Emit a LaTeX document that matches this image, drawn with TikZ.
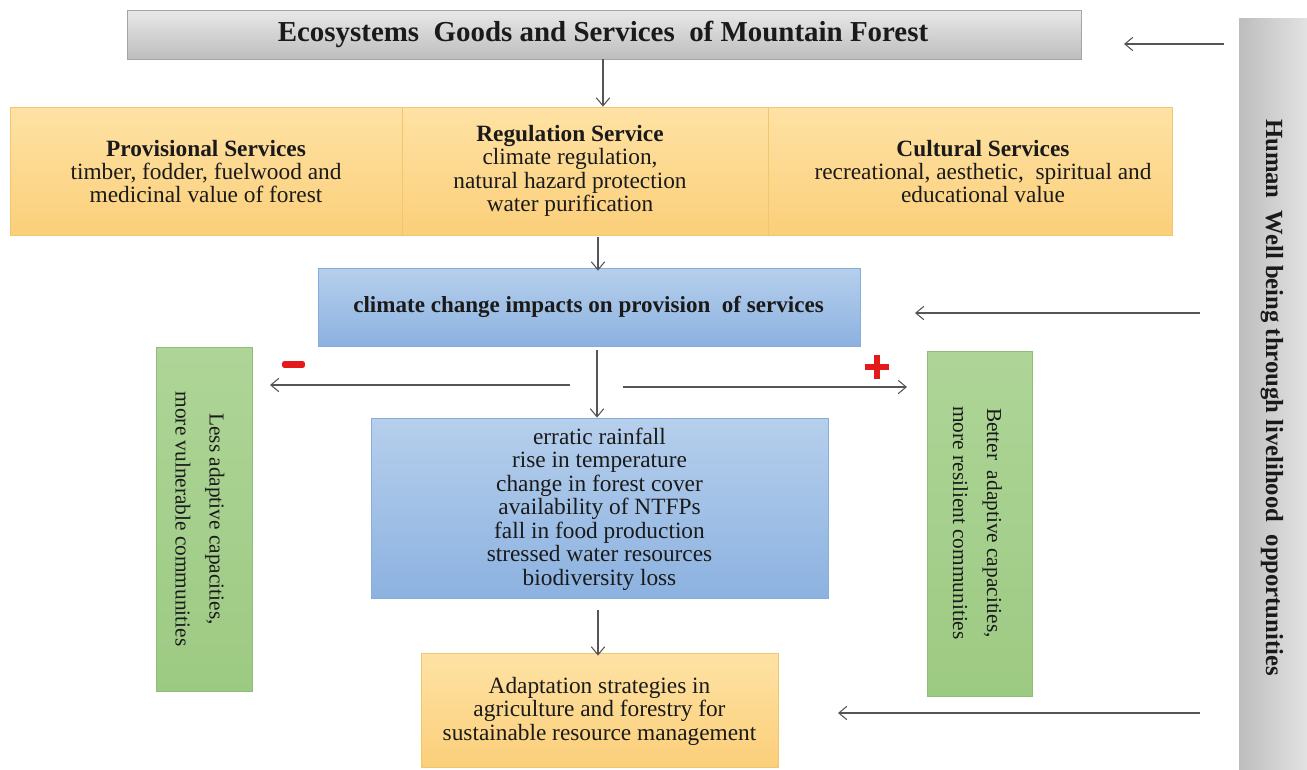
\documentclass[tikz,border=0pt]{standalone}
\usepackage{fontspec}
\setmainfont{Liberation Serif}
\usetikzlibrary{arrows.meta}
\definecolor{orT}{HTML}{FEE2A4}
\definecolor{orB}{HTML}{FBCF7A}
\definecolor{orE}{HTML}{F2C66E}
\definecolor{blT}{HTML}{B6CFEC}
\definecolor{blB}{HTML}{8CB2E0}
\definecolor{blE}{HTML}{86ACD9}
\definecolor{gnT}{HTML}{AED597}
\definecolor{gnB}{HTML}{9DCA83}
\definecolor{gnE}{HTML}{8DBD76}
\definecolor{gyT}{HTML}{E9E9E9}
\definecolor{gyB}{HTML}{BDBDBD}
\definecolor{gyE}{HTML}{A5A5A5}
\definecolor{arrC}{HTML}{555555}
\definecolor{txt}{HTML}{1A1A1A}
\definecolor{sign}{HTML}{E3191C}
\tikzset{
  orbox/.style={rectangle, inner sep=0pt, top color=orT, bottom color=orB, draw=orE, line width=0.6pt},
  blbox/.style={rectangle, inner sep=0pt, top color=blT, bottom color=blB, draw=blE, line width=0.6pt},
  gnbox/.style={rectangle, inner sep=0pt, top color=gnT, bottom color=gnB, draw=gnE, line width=0.6pt},
  gybox/.style={rectangle, inner sep=0pt, top color=gyT, bottom color=gyB, draw=gyE, line width=0.6pt},
  body/.style={font=\fontsize{17.5}{17.6}\selectfont, align=center, text=txt, inner sep=0pt},
  bodyb/.style={body, font=\fontsize{17.3}{17.6}\selectfont\bfseries},
  arr/.style={draw=arrC, line width=0.8pt, -{Straight Barb[length=6pt,width=10pt]}},
}
\begin{document}
\begin{tikzpicture}[x=0.75pt, y=-0.75pt]
\useasboundingbox (0,0) rectangle (1307,769);
% right bar
\node[rectangle, inner sep=0pt, left color=gyB, right color=gyT!85!gyB, minimum width=51pt, minimum height=563.25pt] (hw) at (1273,393.5) {};
\node[rotate=-90, font=\fontsize{18.5}{20}\selectfont\bfseries, text=txt, inner sep=0pt] (hwt) at (1272,397.5) {Human\ \ Well being through livelihood\ \ opportunities};
% title
\node[gybox, minimum width=715.5pt, minimum height=36.75pt] (title) at (604,34.5) {};
\node[font=\fontsize{21.7}{24}\selectfont\bfseries, text=txt, inner sep=0pt] (titlet) at (603,34) {Ecosystems\ \ Goods\ and\ Services\ \ of\ Mountain\ Forest};
% services row
\node[orbox, minimum width=294pt, minimum height=96pt] (prov) at (206,171) {};
\node[orbox, minimum width=274.5pt, minimum height=96pt] (reg) at (585,171) {};
\node[orbox, minimum width=303pt, minimum height=96pt] (cult) at (970,171) {};
\node[body] (provt) at (206,171.5) {\textbf{Provisional Services}\\timber, fodder, fuelwood and\\medicinal value of forest};
\node[body] (regt) at (570,171) {\textbf{Regulation Service}\\climate regulation,\\natural hazard protection\\water purification};
\node[body] (cultt) at (983,171.5) {\textbf{Cultural Services}\\recreational, aesthetic,\ \ spiritual and\\educational value};
% impacts
\node[blbox, minimum width=406.5pt, minimum height=58.5pt] (imp) at (589,307) {};
\node[bodyb] (impt) at (588.5,307) {climate change impacts on provision\ \ of services};
\node[blbox, minimum width=342.75pt, minimum height=135pt] (eff) at (599.5,508) {};
\node[body] (efft) at (599.5,509) {erratic rainfall\\rise in temperature\\change in forest cover\\availability of NTFPs\\fall in food production\\stressed water resources\\biodiversity loss};
% adaptation
\node[orbox, minimum width=267.75pt, minimum height=85.5pt] (adapt) at (599.5,710) {};
\node[body] (adaptt) at (599.5,711) {Adaptation strategies in\\agriculture and forestry for\\sustainable resource management};
% green boxes
\node[gnbox, minimum width=72pt, minimum height=258pt] (less) at (204,519) {};
\node[body, rotate=-90, font=\fontsize{16}{25.5}\selectfont] (lesst) at (200,519) {Less adaptive capacities,\\more vulnerable communities};
\node[gnbox, minimum width=78.75pt, minimum height=258.75pt] (better) at (979.5,523.5) {};
\node[body, rotate=-90, font=\fontsize{16}{25.5}\selectfont] (bettert) at (977.5,523) {Better\ \ adaptive capacities,\\more resilient communities};
% signs
\node[fill=sign, rounded corners=1.5pt, minimum width=17pt, minimum height=5pt, inner sep=0pt] (minus) at (293.5,364.5) {};
\node[fill=sign, minimum width=18pt, minimum height=4.5pt, inner sep=0pt] (plush) at (877,367) {};
\node[fill=sign, minimum width=4.5pt, minimum height=18pt, inner sep=0pt] (plusv) at (877,367) {};
% coordinates
\coordinate (x603) at (603,0);
\coordinate (x598) at (598,0);
\coordinate (x597) at (597,0);
\coordinate (hwA) at (1224,44);
\coordinate (hwAend) at (1124,44);
\coordinate (hwB) at (1200,313);
\coordinate (hwBend) at (915,313);
\coordinate (hwC) at (1200,713);
\coordinate (hwCend) at (838,713);
\coordinate (mL) at (570,385);
\coordinate (mLend) at (270,385);
\coordinate (pR) at (623,387);
\coordinate (pRend) at (907,387);
% arrows
\draw[arr] (title.south -| x603) -- (reg.north -| x603);
\draw[arr] (reg.south -| x598) ++(0,2) -- ([yshift=-2.25pt]imp.north -| x598);
\draw[arr] (imp.south -| x597) ++(0,4) -- (eff.north -| x597);
\draw[arr] (eff.south -| x598) ++(0,12) -- ([yshift=-2.25pt]adapt.north -| x598);
\draw[arr] (hwA) -- (hwAend);
\draw[arr] (hwB) -- (hwBend);
\draw[arr] (hwC) -- (hwCend);
\draw[arr] (mL) -- (mLend);
\draw[arr] (pR) -- (pRend);
\end{tikzpicture}
\end{document}
